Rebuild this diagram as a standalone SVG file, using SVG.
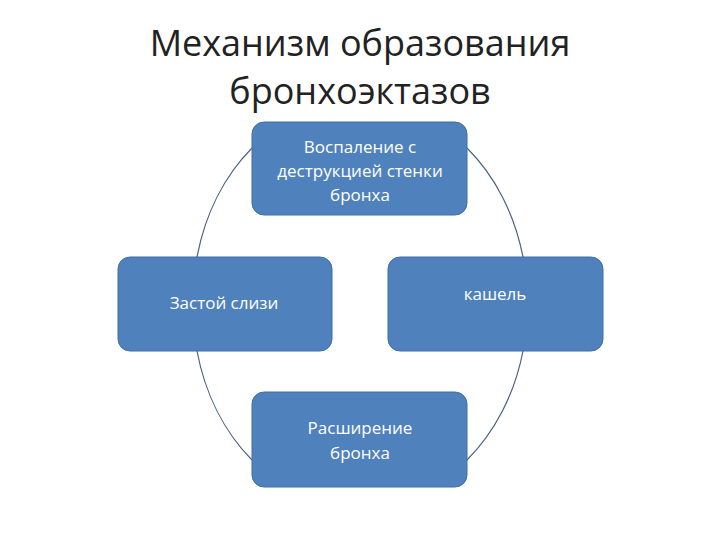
<svg xmlns="http://www.w3.org/2000/svg" width="720" height="540" viewBox="0 0 720 540">
<style>
.t{font-family:"Open Sans","Liberation Sans",sans-serif;font-size:36px;fill:#222;text-anchor:middle}
.b{fill:#4f81bd;stroke:#3f6fa8;stroke-width:1}
.l{font-family:"Open Sans","Liberation Sans",sans-serif;font-size:17px;fill:#fff;text-anchor:middle}
.c{fill:none;stroke:#4a6283;stroke-width:1.2}
</style>
<rect width="720" height="540" fill="#fff"/>
<text class="t" x="360" y="56">Механизм образования</text>
<text class="t" x="360" y="104">бронхоэктазов</text>
<g id="connectors">
<path class="c" d="M252,148 A165,200 0 0 0 197,257"/>
<path class="c" d="M467,148 A165,200 0 0 1 523,257"/>
<path class="c" d="M197,351 A165,200 0 0 0 252,460"/>
<path class="c" d="M523,351 A165,200 0 0 1 467,460"/>
</g>
<g id="n1"><rect class="b" x="252" y="122" width="215" height="93" rx="12"/>
<text class="l" x="360" y="153">Воспаление с</text><text class="l" x="360" y="177">деструкцией стенки</text><text class="l" x="360" y="201">бронха</text></g>
<g id="n2"><rect class="b" x="118" y="257" width="214" height="94" rx="12"/>
<text class="l" x="224" y="309">Застой слизи</text></g>
<g id="n3"><rect class="b" x="388" y="257" width="215" height="94" rx="12"/>
<text class="l" x="495" y="300">кашель</text></g>
<g id="n4"><rect class="b" x="252" y="392" width="215" height="95" rx="12"/>
<text class="l" x="360" y="434">Расширение</text><text class="l" x="360" y="459">бронха</text></g>
</svg>
